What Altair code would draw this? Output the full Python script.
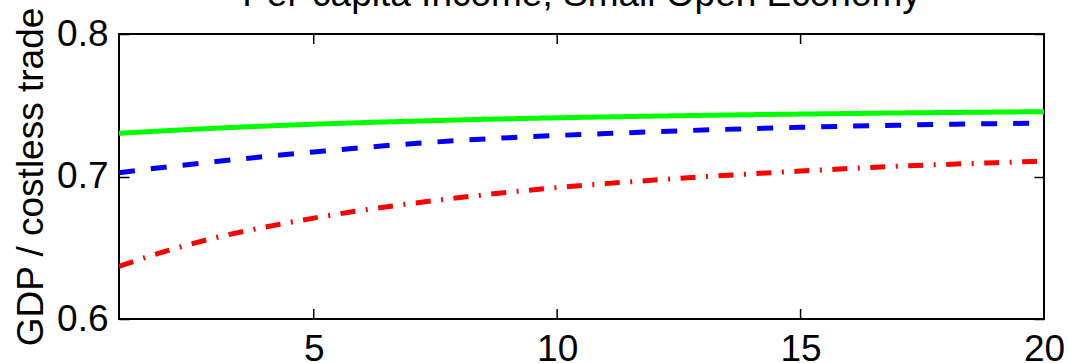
import altair as alt
import pandas as pd

# ---- data ----
periods = list(range(1, 21))
series_names = ["Green", "Blue", "Red"]
green_vals = [0.7303, 0.7322, 0.7339, 0.7354, 0.7367, 0.7378, 0.7388, 0.7397, 0.7405, 0.7412,
              0.7418, 0.7424, 0.7429, 0.7434, 0.7438, 0.7442, 0.7446, 0.7449, 0.7452, 0.7455]
blue_vals = [0.7027, 0.7068, 0.7105, 0.7140, 0.7172, 0.7203, 0.7230, 0.7253, 0.7272, 0.7288,
             0.7301, 0.7314, 0.7326, 0.7336, 0.7345, 0.7353, 0.7360, 0.7366, 0.7371, 0.7375]
red_vals = [0.6370, 0.6480, 0.6572, 0.6645, 0.6708, 0.6763, 0.6810, 0.6852, 0.6890, 0.6922,
            0.6950, 0.6975, 0.6998, 0.7019, 0.7038, 0.7056, 0.7072, 0.7085, 0.7097, 0.7108]
x_ticks = [5, 10, 15, 20]
y_ticks = [0.6, 0.7, 0.8]
title_text = "Per-capita Income, Small Open Economy"
y_title = "GDP / costless trade"

rows = []
for name, vals in zip(series_names, [green_vals, blue_vals, red_vals]):
    for p, v in zip(periods, vals):
        rows.append({"x": p, "y": v, "series": name})
df = pd.DataFrame(rows)
xt_df = pd.DataFrame({"xt": x_ticks})

W, H = 925, 285
FONT = "Liberation Sans"
FS = 37
TICK = 10

x_scale = alt.Scale(domain=[1, 20], nice=False, zero=False)
y_scale = alt.Scale(domain=[0.6, 0.8], nice=False, zero=False)

base = alt.Chart(df)

lines = base.mark_line(strokeWidth=5, clip=True, interpolate="monotone").encode(
    x=alt.X("x:Q", scale=x_scale, axis=alt.Axis(
        orient="bottom", values=x_ticks, ticks=False, tickSize=0, domain=False, grid=False,
        labelFontSize=FS, labelFont=FONT, labelColor="black", labelPadding=12,
        labelFlush=False, labelOverlap=False, title=None)),
    y=alt.Y("y:Q", scale=y_scale, axis=alt.Axis(
        orient="left", values=y_ticks, format=".1f", ticks=False, tickSize=0, domain=False,
        grid=False, labelFontSize=FS, labelFont=FONT, labelColor="black", labelPadding=11,
        labelOverlap=False,
        title=y_title, titleFontSize=FS, titleFont=FONT, titleFontWeight="normal",
        titleColor="black", titleX=-77, titleY=H / 2, titleAlign="center",
        titleBaseline="alphabetic", titleAngle=270)),
    color=alt.Color("series:N", scale=alt.Scale(domain=series_names,
                                                range=["#00ff00", "#0000ff", "#ff0000"]),
                    legend=None),
    strokeDash=alt.StrokeDash("series:N", scale=alt.Scale(
        domain=series_names, range=[[1, 0], [16, 16], [15, 10.5, 2, 10.5]]), legend=None),
)

def tick_axis(orient, offset, vals):
    return alt.Axis(orient=orient, offset=offset, values=vals, labels=False, ticks=True,
                    tickSize=TICK, tickWidth=1.5, tickColor="black", domain=False,
                    grid=False, title=None)

# inward x ticks (bottom and top edges of the box)
xt_bottom = alt.Chart(xt_df).mark_rule(color="black", strokeWidth=1.5).encode(
    x=alt.X("xt:Q", scale=x_scale, axis=None),
    y=alt.value(H), y2=alt.value(H - TICK))
xt_top = alt.Chart(xt_df).mark_rule(color="black", strokeWidth=1.5).encode(
    x=alt.X("xt:Q", scale=x_scale, axis=None),
    y=alt.value(0), y2=alt.value(TICK))

# inward y ticks (left and right edges of the box)
left_in = base.mark_line(opacity=0).encode(
    x=alt.X("x:Q", scale=x_scale, axis=None),
    y=alt.Y("y:Q", scale=y_scale, axis=tick_axis("right", -W, y_ticks)), detail="series:N")
right_in = base.mark_line(opacity=0).encode(
    x=alt.X("x:Q", scale=x_scale, axis=None),
    y=alt.Y("y:Q", scale=y_scale, axis=tick_axis("left", -W, y_ticks)), detail="series:N")

title_mark = alt.Chart(pd.DataFrame({"t": [title_text]})).mark_text(
    font=FONT, fontSize=FS, color="black", align="center", baseline="alphabetic"
).encode(text="t:N", x=alt.value(W / 2), y=alt.value(-28))

chart = alt.layer(lines, xt_bottom, xt_top, left_in, right_in, title_mark).resolve_axis(
    x="independent", y="independent"
).properties(
    width=W, height=H,
    autosize=alt.AutoSizeParams(type="none"),
    padding={"left": 119, "top": 34, "right": 24, "bottom": 44},
    background="white",
).configure_view(stroke="black", strokeWidth=2)

chart.save("out.html", embed_options={"renderer": "svg", "actions": False})
